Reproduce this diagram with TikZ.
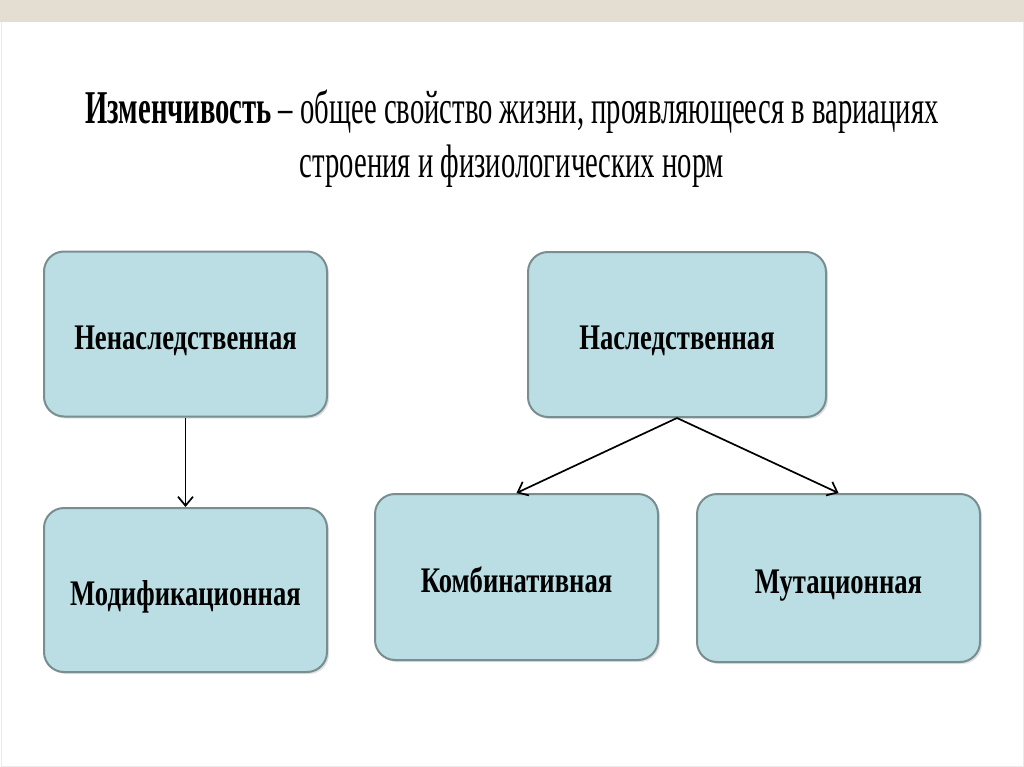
\documentclass[tikz,border=0pt]{standalone}
\usepackage{fontspec}
\setmainfont{Liberation Serif}
\newfontfamily\titlefont[FakeStretch=0.61]{Liberation Serif}
\newfontfamily\boxfont[FakeStretch=0.74]{Liberation Serif}
\usetikzlibrary{arrows.meta,shadows}
\definecolor{band}{RGB}{228,221,209}
\definecolor{boxfill}{RGB}{186,222,227}
\definecolor{boxline}{RGB}{120,142,144}
\definecolor{edge}{RGB}{235,235,235}
\begin{document}
\begin{tikzpicture}[x=1pt,y=-1pt,
  box/.style={draw=boxline, line width=2pt, fill=boxfill, rounded corners=20pt,
    inner sep=0pt, align=center, text height=30pt, text depth=0pt,
    font=\boxfont\bfseries\fontsize{36}{40}\selectfont,
    drop shadow={shadow xshift=2pt, shadow yshift=-2pt, opacity=0.2, fill=black!60}},
  arr/.style={-{Straight Barb[length=9pt,width=15pt]}, line width=1.7pt, black}]
\useasboundingbox (0,0) rectangle (1024,767);
\fill[white] (0,0) rectangle (1024,767);
\fill[band] (0,0) rectangle (1024,22);
\draw[edge, line width=1pt] (1,22) -- (1,766) -- (1023,766) -- (1023,22);
\node[font=\titlefont\fontsize{47}{54}\selectfont, align=center, anchor=base] (title) at (512,178)
  {{\bfseries Изменчивость} – общее свойство жизни, проявляющееся в вариациях\\
   строения и физиологических норм};
\node[box, minimum width=283pt, minimum height=165pt] (nn) at (185.5,334) {Ненаследственная};
\node[box, minimum width=298pt, minimum height=165pt] (n) at (677,334.5) {Наследственная};
\node[box, minimum width=283pt, minimum height=164pt] (mod) at (185.5,590) {Модификационная};
\node[box, minimum width=283pt, minimum height=166pt] (komb) at (516.5,577) {Комбинативная};
\node[box, minimum width=283pt, minimum height=168pt] (mut) at (838.5,578) {Мутационная};
\draw[arr] (nn.south) -- (mod.north);
\draw[arr] (n.south) -- (komb.north);
\draw[arr] (n.south) -- (mut.north);
\end{tikzpicture}
\end{document}
